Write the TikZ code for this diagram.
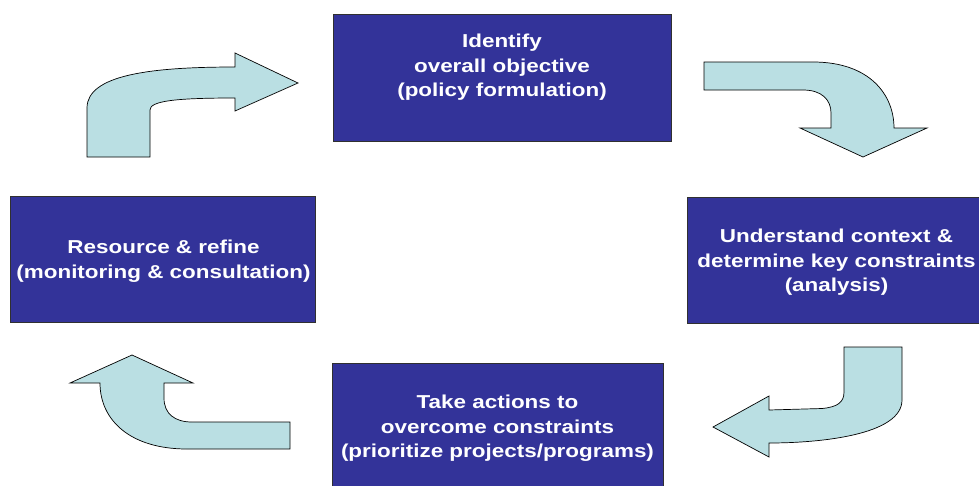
\documentclass[tikz,border=0pt]{standalone}
\usepackage{fontspec}
\newfontfamily\boxfont{Liberation Sans}[FakeStretch=1.2]
\definecolor{boxblue}{HTML}{333399}
\definecolor{arrowcyan}{HTML}{BADFE3}
\definecolor{edgegray}{HTML}{303030}
\begin{document}
\begin{tikzpicture}[x=1pt,y=-1pt,
  box/.style={rectangle, draw=edgegray, line width=0.9pt, fill=boxblue, inner sep=0pt},
  lbl/.style={text=white, inner sep=0pt, anchor=base, font=\boxfont\bfseries\fontsize{18.7}{24.5}\selectfont},
  bent/.style={draw=black, line width=0.7pt, fill=arrowcyan, line join=miter}]
\useasboundingbox (0,0) rectangle (979,485);
\clip (0,0) rectangle (979,485);

% boxes
\node[box, minimum width=338pt, minimum height=127pt] (top) at (502,77.5) {};
\node[box, minimum width=299pt, minimum height=126pt] (right) at (836.5,260) {};
\node[box, minimum width=331pt, minimum height=127pt] (bottom) at (497.5,426.5) {};
\node[box, minimum width=305pt, minimum height=126pt] (left) at (162.5,259) {};

% texts
\node[lbl] (top1) at (502,47.5) {Identify};
\node[lbl] (top2) at (502,72) {overall objective};
\node[lbl] (top3) at (502,96.5) {(policy formulation)};

\node[lbl] (right1) at (836.5,242.5) {Understand context \&};
\node[lbl] (right2) at (836.5,267) {determine key constraints};
\node[lbl] (right3) at (836.5,291.5) {(analysis)};

\node[lbl] (bottom1) at (497.5,408.5) {Take actions to};
\node[lbl] (bottom2) at (497.5,433) {overcome constraints};
\node[lbl] (bottom3) at (497.5,457.5) {(prioritize projects/programs)};

\node[lbl] (left1) at (163.5,253.5) {Resource \& refine};
\node[lbl] (left2) at (163.5,278) {(monitoring \& consultation)};

% bent arrows
\draw[bent] (87,157) -- (87,108) .. controls (87,75) and (150,67) .. (235,67)
  -- (235,53) -- (298,83) -- (235,111) -- (235,98)
  .. controls (175,98) and (150,101) .. (150,110) -- (150,157) -- cycle;

\draw[bent] (704,62) -- (813,62) .. controls (870,62) and (894,95) .. (894,128)
  -- (927,128) -- (863,157) -- (800,128) -- (831,128) -- (831,113)
  .. controls (831,100) and (822,90) .. (803,90) -- (704,90) -- cycle;

\draw[bent] (844,347) -- (902,347) -- (902,400) .. controls (902,435) and (820,443) .. (769,443)
  -- (769,457) -- (713,427) -- (769,396) -- (769,410) -- (822,408.5)
  .. controls (838,407) and (844,402) .. (844,392) -- cycle;

\draw[bent] (290,422) -- (290,449) -- (187,449) .. controls (130,449) and (100,420) .. (100,383)
  -- (70,383) -- (132,355) -- (193,383) -- (164,383) -- (164,398)
  .. controls (164,414) and (175,422) .. (192,422) -- cycle;
\end{tikzpicture}
\end{document}
